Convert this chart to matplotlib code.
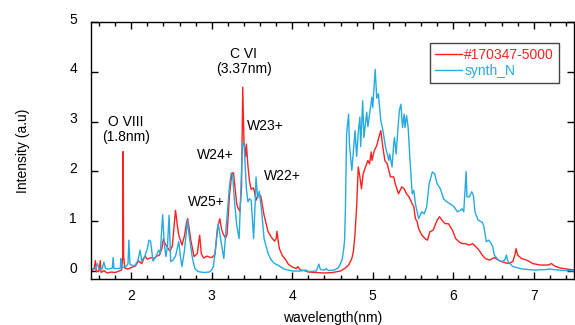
import matplotlib
matplotlib.use("Agg")
import matplotlib.pyplot as plt
from matplotlib.ticker import MultipleLocator
from matplotlib.transforms import ScaledTranslation

plt.rcParams['font.family'] = ['Liberation Sans', 'DejaVu Sans']

# measured spectrum (#170347-5000)
red_x = [1.50, 1.54, 1.555, 1.565, 1.60, 1.615, 1.625, 1.66, 1.70, 1.75, 1.80, 1.85, 1.88, 1.895, 1.90, 1.905,
         1.92, 1.96, 2.00, 2.05, 2.09, 2.13, 2.17, 2.20, 2.25, 2.28, 2.32, 2.35, 2.38, 2.40, 2.42, 2.44, 2.48,
         2.51, 2.53, 2.55, 2.57, 2.59, 2.63, 2.66, 2.69, 2.70, 2.72, 2.74, 2.78, 2.82, 2.85, 2.87, 2.90, 2.94,
         2.97, 3.00, 3.04, 3.07, 3.10, 3.12, 3.14, 3.17, 3.19, 3.22, 3.25, 3.27, 3.29, 3.31, 3.33, 3.35, 3.37,
         3.385, 3.40, 3.42, 3.43, 3.45, 3.47, 3.49, 3.52, 3.55, 3.58, 3.61, 3.65, 3.70, 3.74, 3.78, 3.80, 3.81,
         3.83, 3.84, 3.88, 3.91, 3.95, 4.00, 4.05, 4.07, 4.10, 4.15, 4.20, 4.30, 4.40, 4.50, 4.60, 4.65, 4.70,
         4.74, 4.76, 4.78, 4.80, 4.82, 4.84, 4.86, 4.88, 4.91, 4.94, 4.96, 4.98, 4.99, 5.02, 5.05, 5.07, 5.10,
         5.12, 5.15, 5.18, 5.22, 5.26, 5.28, 5.32, 5.36, 5.39, 5.42, 5.45, 5.49, 5.51, 5.53, 5.55, 5.57, 5.61,
         5.65, 5.68, 5.71, 5.75, 5.80, 5.83, 5.86, 5.90, 5.94, 5.99, 6.03, 6.07, 6.11, 6.15, 6.20, 6.24, 6.28,
         6.32, 6.36, 6.40, 6.45, 6.51, 6.56, 6.60, 6.68, 6.74, 6.77, 6.78, 6.80, 6.85, 6.91, 6.99, 7.08, 7.18,
         7.22, 7.26, 7.33, 7.45, 7.50]
red_y = [-0.02, 0.06, 0.21, -0.01, 0.00, 0.21, -0.03, 0.01, -0.04, -0.02, -0.03, 0.00, 0.02, 0.30, 2.40, 0.30,
         0.06, 0.04, 0.07, 0.10, 0.20, 0.15, 0.30, 0.24, 0.27, 0.25, 0.30, 0.32, 0.45, 0.65, 0.55, 0.50, 0.40,
         0.50, 0.85, 1.22, 0.95, 0.72, 0.52, 0.70, 1.00, 1.05, 0.85, 0.62, 0.29, 0.35, 0.72, 0.35, 0.26, 0.30,
         0.28, 0.27, 0.33, 0.85, 1.05, 0.85, 0.75, 0.66, 0.73, 1.52, 1.97, 1.97, 1.65, 1.35, 1.25, 1.20, 1.70,
         3.69, 2.60, 2.30, 2.55, 2.10, 1.79, 1.64, 1.67, 1.42, 1.55, 1.50, 1.12, 0.79, 0.68, 0.60, 0.65, 0.80,
         0.55, 0.45, 0.30, 0.25, 0.14, 0.08, 0.05, 0.09, 0.02, 0.01, -0.02, -0.03, -0.04, -0.03, 0.00, 0.05, 0.12,
         0.25, 0.40, 0.75, 1.30, 2.09, 1.89, 1.65, 1.95, 2.09, 2.22, 2.15, 2.39, 2.22, 2.42, 2.52, 2.65, 2.82,
         2.55, 2.22, 2.15, 1.89, 1.89, 1.75, 1.55, 1.69, 1.65, 1.55, 1.49, 1.35, 1.29, 1.05, 1.00, 0.85, 0.72,
         0.65, 0.62, 0.79, 0.82, 1.02, 1.09, 1.02, 0.95, 0.95, 0.82, 0.65, 0.59, 0.55, 0.55, 0.52, 0.55, 0.49,
         0.42, 0.32, 0.25, 0.22, 0.27, 0.22, 0.19, 0.15, 0.19, 0.35, 0.45, 0.32, 0.25, 0.22, 0.15, 0.12, 0.12,
         0.15, 0.10, 0.06, 0.03, 0.02]

# synthetic spectrum (synth_N)
blue_x = [1.50, 1.55, 1.58, 1.60, 1.64, 1.66, 1.68, 1.72, 1.765, 1.775, 1.785, 1.83, 1.865, 1.87, 1.88, 1.90,
          1.94, 1.96, 1.97, 1.985, 2.04, 2.08, 2.11, 2.13, 2.17, 2.20, 2.22, 2.24, 2.27, 2.31, 2.34, 2.36, 2.39,
          2.41, 2.43, 2.45, 2.47, 2.49, 2.52, 2.55, 2.59, 2.61, 2.63, 2.66, 2.70, 2.72, 2.76, 2.79, 2.83, 2.90,
          2.97, 3.00, 3.02, 3.05, 3.08, 3.10, 3.13, 3.15, 3.18, 3.22, 3.24, 3.26, 3.28, 3.31, 3.34, 3.36, 3.38,
          3.40, 3.41, 3.43, 3.45, 3.47, 3.49, 3.52, 3.54, 3.55, 3.57, 3.59, 3.62, 3.65, 3.70, 3.74, 3.78, 3.82,
          3.86, 3.90, 3.95, 4.00, 4.10, 4.17, 4.20, 4.30, 4.33, 4.35, 4.40, 4.42, 4.45, 4.52, 4.57, 4.59, 4.62,
          4.64, 4.65, 4.66, 4.675, 4.70, 4.71, 4.74, 4.76, 4.78, 4.80, 4.82, 4.84, 4.85, 4.875, 4.89, 4.925, 4.94,
          4.96, 4.99, 5.00, 5.03, 5.05, 5.07, 5.10, 5.12, 5.14, 5.16, 5.20, 5.21, 5.24, 5.26, 5.27, 5.29, 5.33,
          5.35, 5.37, 5.39, 5.40, 5.42, 5.44, 5.46, 5.48, 5.49, 5.51, 5.53, 5.55, 5.57, 5.61, 5.64, 5.67, 5.70,
          5.74, 5.77, 5.80, 5.84, 5.88, 5.92, 5.96, 6.01, 6.05, 6.09, 6.11, 6.13, 6.16, 6.17, 6.20, 6.23, 6.25,
          6.27, 6.31, 6.36, 6.38, 6.41, 6.44, 6.46, 6.49, 6.51, 6.56, 6.60, 6.64, 6.66, 6.68, 6.74, 6.86, 7.00,
          7.15, 7.20, 7.30, 7.50]
blue_y = [0.03, 0.04, 0.15, 0.04, 0.05, 0.18, 0.05, 0.04, 0.06, 0.27, 0.05, 0.05, 0.06, 0.25, 0.06, 0.08,
          0.10, 0.15, 0.62, 0.13, 0.10, 0.20, 0.42, 0.20, 0.30, 0.45, 0.62, 0.60, 0.20, 0.30, 0.42, 0.35, 1.13,
          0.55, 0.29, 0.50, 1.12, 0.19, 0.22, 0.30, 0.59, 0.30, 0.09, 0.40, 1.02, 0.70, 0.26, 0.05, -0.01, -0.03,
          -0.02, 0.02, 0.09, 0.50, 0.95, 0.75, 0.45, 0.25, 0.90, 1.70, 1.96, 1.93, 1.45, 0.92, 0.65, 1.55, 2.52,
          2.59, 2.30, 1.65, 1.39, 1.45, 1.42, 0.65, 1.40, 1.89, 1.46, 1.60, 1.20, 0.65, 0.35, 0.22, 0.15, 0.12,
          0.08, 0.04, 0.02, 0.00, 0.00, 0.02, -0.01, 0.00, 0.14, 0.03, 0.02, 0.05, 0.01, 0.02, 0.06, 0.12, 0.23,
          0.45, 0.62, 1.20, 2.75, 3.15, 2.55, 2.02, 2.42, 2.82, 2.30, 2.78, 3.09, 2.50, 3.42, 2.68, 3.19, 2.90,
          3.15, 3.49, 3.28, 4.05, 3.47, 3.56, 3.02, 2.88, 2.68, 2.48, 2.22, 2.35, 2.09, 2.55, 2.68, 2.35, 3.22,
          3.35, 2.88, 3.15, 2.88, 3.12, 2.88, 2.30, 1.80, 1.55, 1.62, 1.35, 1.20, 1.05, 1.19, 1.15, 1.29, 1.75,
          1.99, 1.95, 1.75, 1.65, 1.45, 1.39, 1.35, 1.29, 1.19, 1.22, 1.25, 1.19, 2.00, 1.49, 1.49, 1.59, 1.52,
          1.19, 1.02, 0.98, 0.90, 0.59, 0.62, 0.58, 0.49, 0.32, 0.22, 0.19, 0.22, 0.32, 0.19, 0.09, 0.04, 0.02,
          0.03, 0.04, 0.02, 0.00]

labels = ["O VIII\n(1.8nm)", "C VI\n(3.37nm)", "W23+", "W24+", "W22+", "W25+"]
label_x = [1.93, 3.40, 3.67, 3.05, 3.88, 2.93]
label_y = [2.85, 4.2, 2.92, 2.32, 1.9, 1.38]

red = '#ff2020'
blue = '#25aae1'

fig = plt.figure(figsize=(5.75, 3.25), dpi=100)
ax = fig.add_axes([91 / 575, 46 / 325, 483 / 575, 257 / 325])

ax.plot(red_x, red_y, color=red, lw=1.0, label='#170347-5000')
ax.plot(blue_x, blue_y, color=blue, lw=1.0, label='synth_N')

for t, x, y in zip(labels, label_x, label_y):
    ax.text(x, y, t, ha='center', va='center', fontsize=10, linespacing=1.1)

ax.set_xlim(1.5, 7.5)
ax.set_ylim(-0.16, 5)
ax.xaxis.set_major_locator(MultipleLocator(1))
ax.xaxis.set_minor_locator(MultipleLocator(0.2))
ax.yaxis.set_major_locator(MultipleLocator(1))
ax.tick_params(which='both', direction='in', top=True, right=True, labelsize=10)
ax.tick_params(which='major', length=5, width=1)
ax.tick_params(which='minor', length=3, width=1)
ax.tick_params(axis='y', pad=10)
ax.tick_params(axis='x', pad=7)
for s in ax.spines.values():
    s.set_linewidth(1.0)

# y tick labels sit a little above their ticks in the original
shift = ScaledTranslation(0, 4 / 100, fig.dpi_scale_trans)
for lab in ax.get_yticklabels():
    lab.set_transform(lab.get_transform() + shift)

ax.set_xlabel("wavelength(nm)", fontsize=10, labelpad=6)
ax.set_ylabel("Intensity (a.u)", fontsize=10, labelpad=28)

leg = ax.legend(loc='upper right', bbox_to_anchor=(0.969, 0.918), borderaxespad=0, fontsize=10,
                fancybox=False, framealpha=1, edgecolor='#444444', handlelength=2.0, borderpad=0.35,
                labelspacing=0.15, handletextpad=0.15)
leg.get_frame().set_linewidth(1.0)
for text, c in zip(leg.get_texts(), [red, blue]):
    text.set_color(c)

fig.savefig("out.png", dpi=100)
